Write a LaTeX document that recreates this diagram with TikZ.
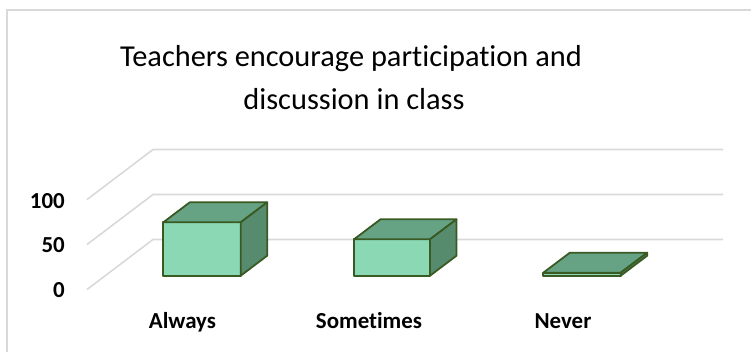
\documentclass[tikz,border=0pt]{standalone}
\usepackage{fontspec}
\setmainfont[Ligatures={NoCommon,NoContextual,NoRare}]{Carlito}
\definecolor{barfrontc}{RGB}{138,216,180}
\definecolor{bartopc}{RGB}{102,163,132}
\definecolor{barsidec}{RGB}{86,139,110}
\definecolor{baredgec}{RGB}{58,90,36}
\definecolor{gridc}{RGB}{217,217,217}
\tikzset{
  gridline/.style={draw=gridc,line width=1.6bp},
  frameline/.style={draw=gridc,line width=1.2bp},
  barfront/.style={fill=barfrontc,draw=baredgec,line width=1.8bp,line join=round},
  bartop/.style={fill=bartopc,draw=baredgec,line width=1.8bp,line join=round},
  barside/.style={fill=barsidec,draw=baredgec,line width=1.8bp,line join=round},
  ticklbl/.style={font=\bfseries\fontsize{23}{26}\selectfont,anchor=base east,inner sep=0pt},
  catlbl/.style={font=\bfseries\fontsize{23}{26}\selectfont,anchor=base,inner sep=0pt},
  titlelbl/.style={font=\fontsize{30.5}{36}\selectfont,anchor=base,inner sep=0pt}
}
\newcommand{\cubebar}[4]{%
  \path[barfront] (#1,#3) rectangle (#2,#4);
  \path[bartop] (#1,#3) -- (#1+26.5,#3-20) -- (#2+26.5,#3-20) -- (#2,#3) -- cycle;
  \path[barside] (#2,#3) -- (#2+26.5,#3-20) -- (#2+26.5,#4-20) -- (#2,#4) -- cycle;
}
\begin{document}
\begin{tikzpicture}[x=1bp,y=-1bp]
\useasboundingbox (0,0) rectangle (751,352);
% chart frame
\draw[frameline] (7,352) -- (7,10) -- (751,10);
% title
\node[titlelbl] (t1) at (351,66) {Teachers encourage participation and};
\node[titlelbl] (t2) at (354,109) {discussion in class};
% gridlines
\foreach \g in {0,45,90}{
  \draw[gridline] (87,289.5-\g) -- (153,239.5-\g) -- (723,239.5-\g);
}
% tick labels
\node[ticklbl] (l100) at (65,208) {100};
\node[ticklbl] (l50) at (65,252.5) {50};
\node[ticklbl] (l0) at (65,297) {0};
% bars
\cubebar{163.3}{240.7}{222.3}{275.7}
\cubebar{354}{430}{239.3}{275.7}
\cubebar{543.3}{620.7}{272.7}{275.7}
% category labels
\node[catlbl] (c1) at (182.5,328) {Always};
\node[catlbl] (c2) at (369,328) {Sometimes};
\node[catlbl] (c3) at (563,328) {Never};
\end{tikzpicture}
\end{document}
